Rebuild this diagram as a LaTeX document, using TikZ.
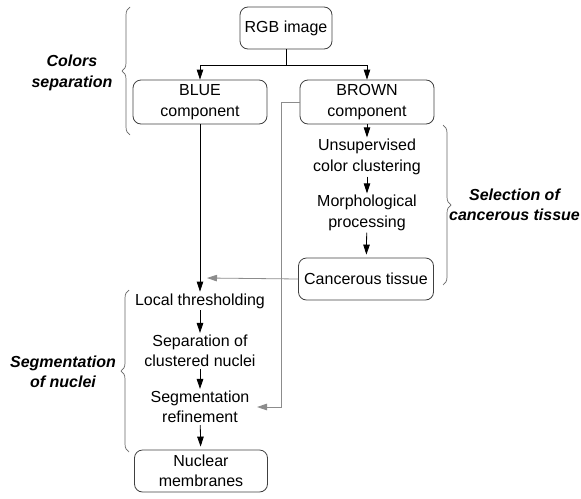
\documentclass[tikz,border=0pt]{standalone}
\usepackage{fontspec}
\setmainfont{Liberation Sans}
\usepackage{tikz}
\usetikzlibrary{arrows.meta,positioning,calc,decorations.pathreplacing}
\tikzset{box/.style={draw=black!75,rounded corners=8pt,align=center,minimum width=134pt,minimum height=44pt,inner sep=2pt}}
\tikzset{stage/.style={align=center,inner sep=1.5pt}}
\tikzset{phase/.style={align=center,inner sep=1pt,font=\fontsize{16}{20.5}\selectfont\bfseries\itshape}}
\tikzset{bracer/.style={draw=black!60,line width=0.7pt,-,decorate,decoration={brace,amplitude=8pt}}}
\tikzset{link/.style={draw=black!45,-{Triangle[length=10pt,width=6.5pt]}}}

\begin{document}
\begin{tikzpicture}[x=1pt,y=-1pt,->,>={Triangle[length=10pt,width=6.5pt]},line width=0.8pt,font=\fontsize{16}{20.5}\selectfont]
        \useasboundingbox (0,0) rectangle (581,498);
        % boxes
        \node[box,minimum width=92pt,minimum height=42pt] (rgb) at (286,28) {RGB image};
        \node[box] (blue) at (200,102) {BLUE\\component};
        \node[box] (brown) at (367,102) {BROWN\\component};
        \node[box,minimum width=135pt,minimum height=42pt] (canc) at (366,279) {Cancerous tissue};
        \node[box,minimum width=133pt,minimum height=42pt] (nucl) at (201,471) {Nuclear\\membranes};
        % steps
        \node[stage] (unsup) at (367,157) {Unsupervised\\color clustering};
        \node[stage] (morph) at (367,213) {Morphological\\processing};
        \node[stage] (local) at (200,301) {Local thresholding};
        \node[stage] (sep) at (200,351) {Separation of\\clustered nuclei};
        \node[stage] (segm) at (200,407) {Segmentation\\refinement};
        \coordinate (split) at (286,65);
        \coordinate (merge) at (207,278);
        \coordinate (backin) at (257,407);
        % connectors
        \draw (rgb.south) -- (split) -| (blue.north);
        \draw (split) -| (brown.north);
        \draw (brown) -- (unsup);
        \draw (unsup) -- (morph);
        \draw[shorten >=3pt] (morph) -- (canc);
        \draw (blue) -- (local);
        \draw[link] (canc.west) -- (merge);
        \draw[link] (brown.west) -- ++(-18,0) |- (backin);
        \draw (local) -- (sep);
        \draw (sep) -- (segm);
        \draw[shorten >=3pt] (segm) -- (nucl);
        % phases
        \draw[bracer] (130,135) -- (130,7);
        \node[phase] (colors) at (72,73) {Colors\\separation};
        \draw[bracer] (443,125) -- (443,285);
        \node[phase] (select) at (514.5,205) {Selection of\\cancerous tissue};
        \draw[bracer] (129,452) -- (129,290);
        \node[phase] (segnuc) at (63,372) {Segmentation\\of nuclei};
\end{tikzpicture}
\end{document}
